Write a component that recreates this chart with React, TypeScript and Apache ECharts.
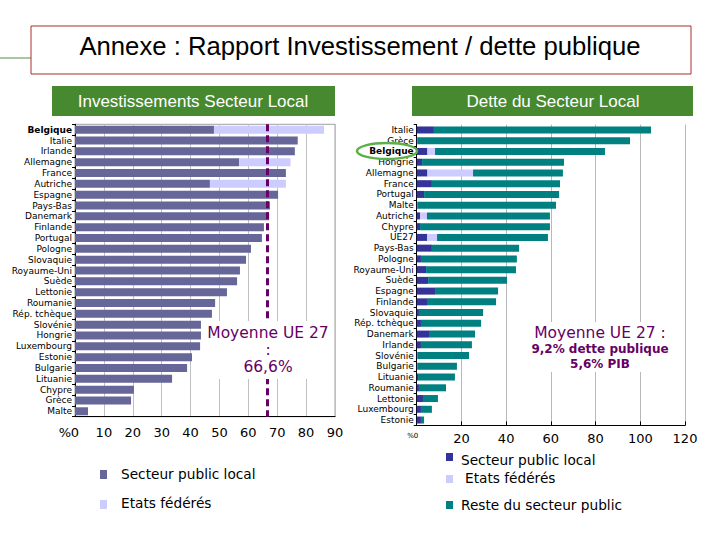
import React, { useEffect, useRef } from "react";
import * as echarts from "echarts";

const leftCategories = ["Belgique", "Italie", "Irlande", "Allemagne", "France", "Autriche", "Espagne", "Pays-Bas", "Danemark", "Finlande", "Portugal", "Pologne", "Slovaquie", "Royaume-Uni", "Suède", "Lettonie", "Roumanie", "Rép. tchèque", "Slovénie", "Hongrie", "Luxembourg", "Estonie", "Bulgarie", "Lituanie", "Chypre", "Grèce", "Malte"];
const leftLocal = [48.1, 77.1, 76.1, 56.8, 73.0, 46.7, 70.3, 67.5, 67.2, 65.4, 64.7, 60.9, 59.2, 57.1, 56.1, 52.6, 48.5, 47.4, 43.6, 43.6, 43.3, 40.5, 38.8, 33.6, 20.4, 19.4, 4.5];
const leftFederal = [38.1, 0, 0, 17.8, 0, 26.3, 0, 0, 0, 0, 0, 0, 0, 0, 0, 0, 0, 0, 0, 0, 0, 0, 0, 0, 0, 0, 0];
const leftAverage = 66.6;
const leftTicks = [0, 90, 10];

const rightCategories = ["Italie", "Grèce", "Belgique", "Hongrie", "Allemagne", "France", "Portugal", "Malte", "Autriche", "Chypre", "UE27", "Pays-Bas", "Pologne", "Royaume-Uni", "Suède", "Espagne", "Finlande", "Slovaquie", "Rép. tchèque", "Danemark", "Irlande", "Slovénie", "Bulgarie", "Lituanie", "Roumanie", "Lettonie", "Luxembourg", "Estonie"];
const rightLocal = [7.7, 0.3, 4.8, 2.4, 4.8, 6.8, 3.3, 0.3, 1.5, 1.5, 4.6, 6.8, 1.9, 4.2, 5.1, 8.2, 4.6, 1.0, 1.9, 5.5, 1.9, 0.3, 0.3, 0.6, 1.0, 2.8, 1.9, 1.9];
const rightFederal = [0, 0, 3.4, 0, 20.4, 0, 0, 0, 3.1, 0, 4.5, 0, 0, 0, 0, 0, 0, 0, 0, 0, 0, 0, 0, 0, 0, 0, 0, 0];
const rightRest = [97.1, 95.1, 76.0, 63.5, 40.2, 57.3, 60.4, 62.0, 55.0, 58.1, 49.6, 39.0, 42.9, 40.2, 35.3, 28.2, 30.9, 28.7, 26.9, 20.6, 22.8, 23.1, 17.7, 16.5, 12.1, 6.7, 4.9, 1.4];
const rightTicks = [0, 120, 20];

const FONT = "DejaVu Sans";
const PURPLE = "#660066";
const GREEN = "#47892f";

export default function App() {
  const ref = useRef<HTMLDivElement>(null);
  useEffect(() => {
    if (!ref.current) return;
    const chart = echarts.init(ref.current, null, { renderer: "svg" });
    const catLabel = (v: string) => (v === "Belgique" ? "{b|" + v + "}" : v);
    const catAxisBase = {
      type: "category" as const,
      inverse: true,
      axisLine: { lineStyle: { color: "#000", width: 1 } },
      axisTick: { show: true, length: 3, interval: 0, lineStyle: { color: "#000" } },
      axisLabel: {
        interval: 0,
        hideOverlap: false,
        fontSize: 9,
        fontFamily: FONT,
        color: "#000",
        margin: 3,
        formatter: catLabel,
        rich: { b: { fontSize: 9, fontFamily: FONT, fontWeight: "bold", color: "#000" } },
      },
      splitLine: { show: false },
    };
    const option = {
      animation: false,
      backgroundColor: "#fff",
      grid: [
        { left: 75, top: 124.3, width: 260, height: 292.4, show: true, borderColor: "#a0a0a0", borderWidth: 1, backgroundColor: "transparent" },
        { left: 416.7, top: 124.6, width: 268.3, height: 300.8, show: false },
      ],
      xAxis: [
        {
          gridIndex: 0, type: "value", min: leftTicks[0], max: leftTicks[1], interval: leftTicks[2],
          axisLine: { show: true, lineStyle: { color: "#000" } },
          axisTick: { show: false },
          axisLabel: { fontSize: 13, fontFamily: FONT, color: "#000", margin: 9 },
          splitLine: { show: true, lineStyle: { color: "#c0c0c0" } },
        },
        {
          gridIndex: 1, type: "value", min: rightTicks[0], max: rightTicks[1], interval: rightTicks[2],
          axisLine: { show: true, lineStyle: { color: "#000" } },
          axisTick: { show: true, length: 4, inside: true, lineStyle: { color: "#000" } },
          axisLabel: {
            fontSize: 13, fontFamily: FONT, color: "#000", margin: 7,
            formatter: (v: number) => (v === 0 ? "{s|%0}" : String(v)),
            rich: { s: { fontSize: 7, fontFamily: FONT, color: "#000", padding: [0, 8, 0, 0] } },
          },
          splitLine: { show: true, lineStyle: { color: "#b8b8b8" } },
        },
      ],
      yAxis: [
        { ...catAxisBase, gridIndex: 0, data: leftCategories },
        { ...catAxisBase, gridIndex: 1, data: rightCategories },
      ],
      series: [
        {
          name: "Secteur public local", type: "bar", stack: "l", xAxisIndex: 0, yAxisIndex: 0,
          data: leftLocal, barWidth: 8, itemStyle: { color: "#666699" },
          markLine: {
            symbol: "none", silent: true, label: { show: false },
            lineStyle: { color: PURPLE, width: 3, type: [7, 4] },
            data: [{ xAxis: leftAverage }],
          },
        },
        { name: "Etats fédérés", type: "bar", stack: "l", xAxisIndex: 0, yAxisIndex: 0, data: leftFederal, barWidth: 8, itemStyle: { color: "#ccccff" } },
        { name: "Secteur public local ", type: "bar", stack: "r", xAxisIndex: 1, yAxisIndex: 1, data: rightLocal, barWidth: 7, itemStyle: { color: "#333399" } },
        { name: "Etats fédérés ", type: "bar", stack: "r", xAxisIndex: 1, yAxisIndex: 1, data: rightFederal, barWidth: 7, itemStyle: { color: "#ccccff" } },
        { name: "Reste du secteur public", type: "bar", stack: "r", xAxisIndex: 1, yAxisIndex: 1, data: rightRest, barWidth: 7, itemStyle: { color: "#008080" } },
      ],
      graphic: [
        { type: "line", shape: { x1: 0, y1: 58, x2: 31, y2: 58 }, style: { stroke: "#5a8a48", lineWidth: 1 } },
        { type: "rect", shape: { x: 31, y: 26, width: 660, height: 48 }, style: { fill: "#fff", stroke: "#a82c2c", lineWidth: 1 } },
        { type: "text", x: 360, y: 46, style: { text: "Annexe : Rapport Investissement / dette publique", fontSize: 25.7, fontFamily: "Liberation Sans", fill: "#000", align: "center", verticalAlign: "middle" } },
        { type: "rect", shape: { x: 52, y: 86, width: 283, height: 30 }, style: { fill: GREEN } },
        { type: "text", x: 193, y: 101, style: { text: "Investissements Secteur Local", fontSize: 17, fontFamily: "Liberation Sans", fill: "#fff", align: "center", verticalAlign: "middle" } },
        { type: "rect", shape: { x: 412, y: 86, width: 281, height: 30 }, style: { fill: GREEN } },
        { type: "text", x: 553, y: 101, style: { text: "Dette du Secteur Local", fontSize: 17, fontFamily: "Liberation Sans", fill: "#fff", align: "center", verticalAlign: "middle" } },
        { type: "text", x: 71, y: 432, style: { text: "%", fontSize: 13, fontFamily: FONT, fill: "#000", align: "right", verticalAlign: "middle" } },
        { type: "rect", shape: { x: 205, y: 321, width: 128, height: 58 }, style: { fill: "#fff" }, z: 100 },
        { type: "text", x: 268, y: 333, z: 101, style: { text: "Moyenne UE 27", fontSize: 15.5, fontFamily: FONT, fill: PURPLE, align: "center", verticalAlign: "middle" } },
        { type: "text", x: 268, y: 350, z: 101, style: { text: ":", fontSize: 15.5, fontFamily: FONT, fill: PURPLE, align: "center", verticalAlign: "middle" } },
        { type: "text", x: 268, y: 367, z: 101, style: { text: "66,6%", fontSize: 15.5, fontFamily: FONT, fill: PURPLE, align: "center", verticalAlign: "middle" } },
        { type: "rect", shape: { x: 528, y: 322, width: 145, height: 50 }, style: { fill: "#fff" }, z: 100 },
        { type: "text", x: 600, y: 333, z: 101, style: { text: "Moyenne UE 27 :", fontSize: 15.5, fontFamily: FONT, fill: PURPLE, align: "center", verticalAlign: "middle" } },
        { type: "text", x: 600, y: 349, z: 101, style: { text: "9,2% dette publique", fontSize: 12, fontWeight: "bold", fontFamily: FONT, fill: PURPLE, align: "center", verticalAlign: "middle" } },
        { type: "text", x: 600, y: 364, z: 101, style: { text: "5,6% PIB", fontSize: 12, fontWeight: "bold", fontFamily: FONT, fill: PURPLE, align: "center", verticalAlign: "middle" } },
        { type: "ellipse", shape: { cx: 387, cy: 151, rx: 30, ry: 8 }, style: { fill: "none", stroke: "#5cb04a", lineWidth: 2.5 }, z: 100 },
        { type: "rect", shape: { x: 100, y: 470, width: 7, height: 9 }, style: { fill: "#666699" } },
        { type: "text", x: 121, y: 474, style: { text: "Secteur public local", fontSize: 13.7, fontFamily: FONT, fill: "#000", verticalAlign: "middle" } },
        { type: "rect", shape: { x: 100, y: 500, width: 7, height: 9 }, style: { fill: "#ccccff" } },
        { type: "text", x: 121, y: 503, style: { text: "Etats fédérés", fontSize: 13.7, fontFamily: FONT, fill: "#000", verticalAlign: "middle" } },
        { type: "rect", shape: { x: 446, y: 453, width: 7, height: 8 }, style: { fill: "#333399" } },
        { type: "text", x: 461, y: 460, style: { text: "Secteur public local", fontSize: 13.7, fontFamily: FONT, fill: "#000", verticalAlign: "middle" } },
        { type: "rect", shape: { x: 446, y: 475, width: 7, height: 8 }, style: { fill: "#ccccff" } },
        { type: "text", x: 465, y: 478, style: { text: "Etats fédérés", fontSize: 13.7, fontFamily: FONT, fill: "#000", verticalAlign: "middle" } },
        { type: "rect", shape: { x: 446, y: 501, width: 7, height: 8 }, style: { fill: "#008080" } },
        { type: "text", x: 461, y: 505, style: { text: "Reste du secteur public", fontSize: 13.7, fontFamily: FONT, fill: "#000", verticalAlign: "middle" } },
      ],
    };
    chart.setOption(option as any);
    return () => chart.dispose();
  }, []);
  return <div ref={ref} style={{ position: "fixed", left: 0, top: 0, width: 720, height: 540, background: "#fff" }} />;
}
